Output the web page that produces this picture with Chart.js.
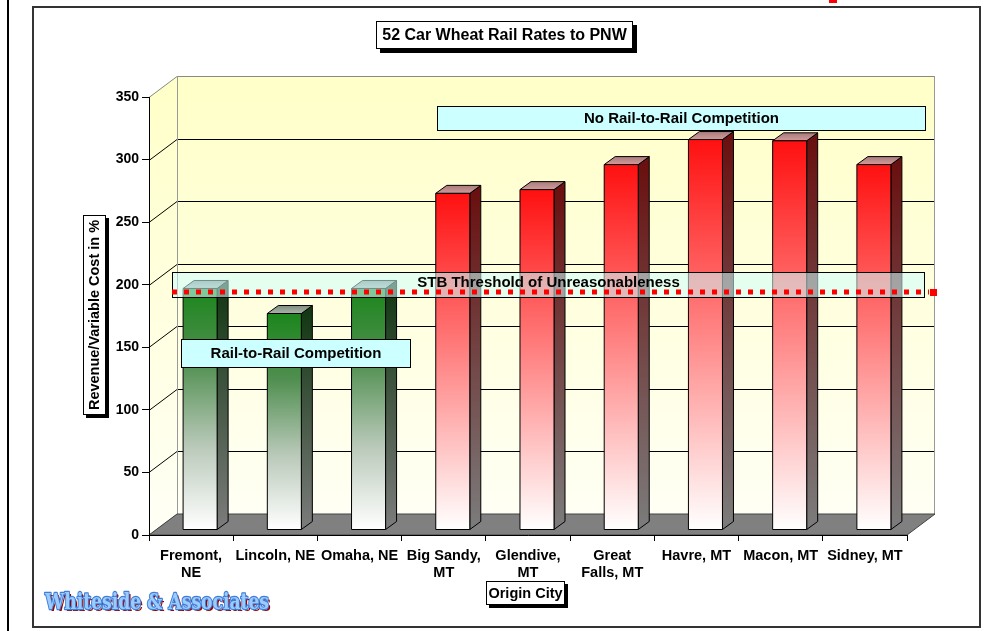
<!DOCTYPE html>
<html>
<head>
<meta charset="utf-8">
<script src="https://cdn.jsdelivr.net/npm/chart.js@4"></script>
<style>
  html, body { margin: 0; padding: 0; background: #fff; }
  #chart { display: block; }
</style>
</head>
<body>
<canvas id="chart" width="994" height="631"></canvas>
<script>
// chart data
const categories = [["Fremont,", "NE"], "Lincoln, NE", "Omaha, NE", ["Big Sandy,", "MT"], ["Glendive,", "MT"], ["Great", "Falls, MT"], "Havre, MT", "Macon, MT", "Sidney, MT"];
const rvcValues = [193, 173, 193, 269, 272, 292, 312, 311, 292];
const railCompetition = [true, true, true, false, false, false, false, false, false];
const yTickValues = [0, 50, 100, 150, 200, 250, 300, 350];
const thresholdValue = 177;

const FONT = "'Liberation Sans', Arial, sans-serif";
// 3D depth of the plot box and bars
const DX = 28, DY = 21;
const BAR_DX0 = 9, BAR_DY0 = 5, BAR_DDX = 11, BAR_DDY = 8;

function poly(ctx, pts, fill, stroke) {
  ctx.beginPath();
  ctx.moveTo(pts[0][0], pts[0][1]);
  for (let i = 1; i < pts.length; i++) ctx.lineTo(pts[i][0], pts[i][1]);
  ctx.closePath();
  if (fill) { ctx.fillStyle = fill; ctx.fill(); }
  if (stroke) { ctx.strokeStyle = stroke; ctx.lineWidth = 1; ctx.stroke(); }
}

function shadowBox(ctx, x, y, w, h, off) {
  ctx.fillStyle = "#000";
  ctx.fillRect(x + off, y + off, w, h);
  ctx.fillStyle = "#fff";
  ctx.fillRect(x, y, w, h);
  ctx.strokeStyle = "#000";
  ctx.lineWidth = 1;
  ctx.strokeRect(x + 0.5, y + 0.5, w - 1, h - 1);
}

function noteBox(ctx, x, y, w, h, text, fill) {
  ctx.fillStyle = fill;
  ctx.fillRect(x, y, w, h);
  ctx.strokeStyle = "#000";
  ctx.lineWidth = 1;
  ctx.strokeRect(x + 0.5, y + 0.5, w - 1, h - 1);
  ctx.fillStyle = "#000";
  ctx.font = "bold 15px " + FONT;
  ctx.textAlign = "center";
  ctx.textBaseline = "middle";
  ctx.fillText(text, x + w / 2, y + h / 2);
}

const box3d = {
  id: "box3d",
  beforeDraw(chart) {
    const ctx = chart.ctx;
    const ys = chart.scales.y;
    const L = chart.chartArea.left, R = chart.chartArea.right;
    const T = ys.getPixelForValue(350), B = ys.getPixelForValue(0);
    ctx.save();
    ctx.fillStyle = "#fff";
    ctx.fillRect(0, 0, chart.width, chart.height);

    // slide edge, frame and the stray red mark
    ctx.fillStyle = "#000";
    ctx.fillRect(7, 0, 2, chart.height);
    ctx.strokeStyle = "#333";
    ctx.lineWidth = 2;
    ctx.strokeRect(33, 7, 947, 620);
    ctx.fillStyle = "#f00";
    ctx.fillRect(829, 0, 8, 3);

    // walls
    const wallGrad = ctx.createLinearGradient(0, T - DY, 0, B);
    wallGrad.addColorStop(0, "#FFFFC8");
    wallGrad.addColorStop(1, "#FFFFF6");
    poly(ctx, [[L + DX, T - DY], [R + DX, T - DY], [R + DX, B - DY], [L + DX, B - DY]], wallGrad, null);
    poly(ctx, [[L, T], [L + DX, T - DY], [L + DX, B - DY], [L, B]], wallGrad, null);

    // gridlines on back and side wall
    ctx.lineWidth = 1;
    yTickValues.forEach(function (v) {
      const yy = Math.round(ys.getPixelForValue(v)) + 0.5;
      ctx.strokeStyle = v === 350 ? "#888" : "#000";
      ctx.beginPath();
      ctx.moveTo(L, yy);
      ctx.lineTo(L + DX, yy - DY);
      ctx.lineTo(R + DX, yy - DY);
      ctx.stroke();
    });
    ctx.strokeStyle = "#999";
    ctx.beginPath();
    ctx.moveTo(L + DX + 0.5, T - DY);
    ctx.lineTo(L + DX + 0.5, B - DY);
    ctx.moveTo(R + DX - 0.5, T - DY);
    ctx.lineTo(R + DX - 0.5, B - DY);
    ctx.stroke();

    // floor
    poly(ctx, [[L, B], [L + DX, B - DY], [R + DX, B - DY], [R, B]], "#808080", "#444");
    ctx.restore();
  },
  afterDatasetsDraw(chart) {
    const ctx = chart.ctx;
    const ys = chart.scales.y;
    const L = chart.chartArea.left, R = chart.chartArea.right;
    const meta = chart.getDatasetMeta(0);
    ctx.save();

    // 3D bars from the bar elements
    meta.data.forEach(function (el, i) {
      const green = railCompetition[i];
      const w = el.width;
      const x0 = el.x - w / 2 + BAR_DX0, x1 = x0 + w;
      const yTop = el.y - BAR_DY0, yBot = el.base - BAR_DY0;

      const sideGrad = ctx.createLinearGradient(0, yTop, 0, yBot);
      sideGrad.addColorStop(0, green ? "#143814" : "#6A1010");
      sideGrad.addColorStop(1, "#7C7C7C");
      poly(ctx, [[x1, yTop], [x1 + BAR_DDX, yTop - BAR_DDY], [x1 + BAR_DDX, yBot - BAR_DDY], [x1, yBot]], sideGrad, "#000");

      const topGrad = ctx.createLinearGradient(0, yTop - BAR_DDY, 0, yTop);
      topGrad.addColorStop(0, green ? "#7E8E7E" : "#A87C7C");
      topGrad.addColorStop(1, green ? "#A9B4A9" : "#D29A9A");
      poly(ctx, [[x0, yTop], [x0 + BAR_DDX, yTop - BAR_DDY], [x1 + BAR_DDX, yTop - BAR_DDY], [x1, yTop]], topGrad, "#000");

      const frontGrad = ctx.createLinearGradient(0, yTop, 0, yBot);
      if (green) {
        frontGrad.addColorStop(0, "#1C861C");
        frontGrad.addColorStop(0.3, "#4F8E4F");
        frontGrad.addColorStop(0.65, "#B8C8B8");
        frontGrad.addColorStop(1, "#FFFFFF");
      } else {
        frontGrad.addColorStop(0, "#FF1010");
        frontGrad.addColorStop(0.45, "#FF7A7A");
        frontGrad.addColorStop(1, "#FFFFFF");
      }
      poly(ctx, [[x0, yTop], [x1, yTop], [x1, yBot], [x0, yBot]], frontGrad, "#000");
    });

    // STB threshold band and dotted line
    const lineY = Math.round(ys.getPixelForValue(thresholdValue)) - DY;
    ctx.fillStyle = "rgba(205,255,255,0.55)";
    ctx.fillRect(L + 23, lineY - 20, R - L - 5, 26);
    ctx.strokeStyle = "#000";
    ctx.lineWidth = 1;
    ctx.strokeRect(L + 23.5, lineY - 19.5, R - L - 6, 25);
    ctx.fillStyle = "#000";
    ctx.font = "bold 15px " + FONT;
    ctx.textAlign = "center";
    ctx.textBaseline = "middle";
    ctx.fillText("STB Threshold of Unreasonableness", (L + 23 + R + 18) / 2, lineY - 9);

    ctx.strokeStyle = "#FF0000";
    ctx.lineWidth = 5;
    ctx.setLineDash([5, 7]);
    ctx.beginPath();
    ctx.moveTo(L + 23, lineY);
    ctx.lineTo(R + DX - 6, lineY);
    ctx.stroke();
    ctx.setLineDash([]);
    ctx.fillStyle = "#FF0000";
    ctx.fillRect(R + DX - 5, lineY - 3, 7, 7);

    // text boxes
    noteBox(ctx, 437, 106, 489, 25, "No Rail-to-Rail Competition", "#CCFFFF");
    noteBox(ctx, 181, 339, 230, 29, "Rail-to-Rail Competition", "#CCFFFF");

    // title
    shadowBox(ctx, 376, 21, 257, 28, 4);
    ctx.fillStyle = "#000";
    ctx.font = "bold 16px " + FONT;
    ctx.textAlign = "center";
    ctx.textBaseline = "middle";
    ctx.fillText("52 Car Wheat Rail Rates to PNW", 504.5, 35.5);

    // axis titles
    ctx.font = "bold 14.5px " + FONT;
    shadowBox(ctx, 83, 215, 23, 200, 3);
    ctx.save();
    ctx.translate(95, 315);
    ctx.rotate(-Math.PI / 2);
    ctx.fillStyle = "#000";
    ctx.fillText("Revenue/Variable Cost in %", 0, 0);
    ctx.restore();

    shadowBox(ctx, 486, 581, 79, 24, 3);
    ctx.fillStyle = "#000";
    ctx.fillText("Origin City", 525.5, 593.5);

    // logo
    ctx.font = "bold 23px 'DejaVu Serif', serif";
    ctx.textAlign = "left";
    ctx.textBaseline = "alphabetic";
    ctx.lineJoin = "round";
    ctx.fillStyle = "#990000";
    ctx.fillText("Whiteside & Associates", 47, 611, 224);
    ctx.strokeStyle = "#3F7FD8";
    ctx.lineWidth = 2.5;
    ctx.strokeText("Whiteside & Associates", 45, 609, 224);
    ctx.fillStyle = "#9CCBFF";
    ctx.fillText("Whiteside & Associates", 45, 609, 224);

    ctx.restore();
  }
};

new Chart(document.getElementById("chart"), {
  type: "bar",
  data: {
    labels: categories,
    datasets: [{
      label: "Revenue/Variable Cost in %",
      data: rvcValues,
      backgroundColor: "rgba(0,0,0,0)",
      borderWidth: 0,
      barPercentage: 0.404,
      categoryPercentage: 1
    }]
  },
  options: {
    responsive: false,
    animation: false,
    devicePixelRatio: 1,
    layout: { padding: { top: 97, right: 87, left: 0, bottom: 0 } },
    plugins: { legend: { display: false }, tooltip: { enabled: false } },
    scales: {
      x: {
        offset: true,
        afterFit: function (s) { s.height = 96; },
        grid: { offset: true, drawOnChartArea: false, tickLength: 6, color: "#000" },
        border: { color: "#000" },
        ticks: {
          color: "#000",
          font: { family: FONT, size: 14.5, weight: "bold", lineHeight: 1.17 },
          padding: 7,
          maxRotation: 0,
          autoSkip: false
        }
      },
      y: {
        min: 0,
        max: 350,
        afterFit: function (s) { s.width = 149; },
        afterBuildTicks: function (s) { s.ticks = yTickValues.map(function (v) { return { value: v }; }); },
        grid: { drawOnChartArea: false, tickLength: 7, color: "#000" },
        border: { color: "#000" },
        ticks: {
          color: "#000",
          font: { family: FONT, size: 14, weight: "bold" },
          padding: 3
        }
      }
    }
  },
  plugins: [box3d]
});
</script>
</body>
</html>
